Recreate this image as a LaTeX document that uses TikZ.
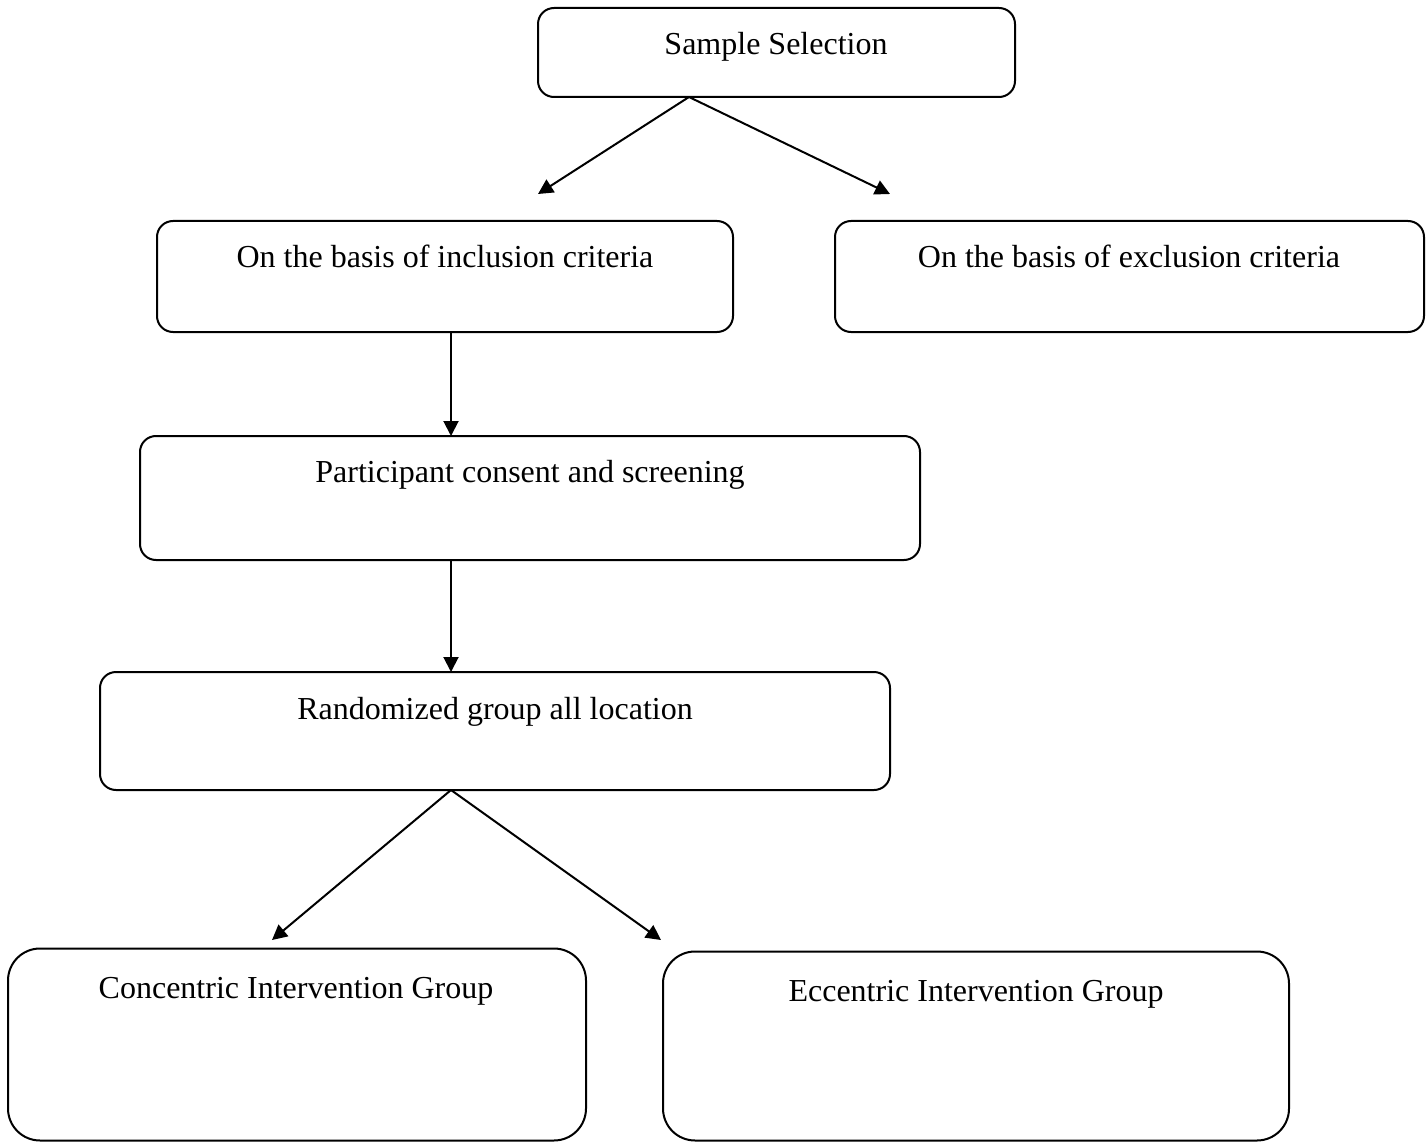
\documentclass[tikz,border=0pt]{standalone}
\usepackage{fontspec}
\setmainfont{Liberation Serif}
\usetikzlibrary{arrows.meta}
\begin{document}
\begin{tikzpicture}[x=1pt,y=-1pt,
  box/.style={draw=black, line width=2pt, rounded corners=#1, inner sep=0pt, outer sep=0pt},
  box/.default=16pt,
  lbl/.style={anchor=base, inner sep=0pt, font=\fontsize{32}{38}\selectfont},
  arr/.style={line width=2pt, -{Triangle[length=15pt,width=15pt]}}]
\useasboundingbox (0,0) rectangle (1427,1142);
% boxes
\node[box, minimum width=477pt, minimum height=89pt] (ss) at (776.5,52.5) {};
\node[box, minimum width=576pt, minimum height=111pt] (inc) at (445,276.5) {};
\node[box, minimum width=589pt, minimum height=111pt] (exc) at (1129.5,276.5) {};
\node[box, minimum width=780pt, minimum height=124pt] (part) at (530,498) {};
\node[box, minimum width=790pt, minimum height=118pt] (rand) at (495,731) {};
\node[box=32pt, minimum width=578pt, minimum height=192pt] (con) at (297,1044.5) {};
\node[box=32pt, minimum width=626pt, minimum height=189pt] (ecc) at (976,1046) {};
% labels
\node[lbl] (tss) at (776,55) {Sample Selection};
\node[lbl] (tinc) at (445,267) {On the basis of inclusion criteria};
\node[lbl] (texc) at (1129,267) {On the basis of exclusion criteria};
\node[lbl] (tpart) at (530,482) {Participant consent and screening};
\node[lbl] (trand) at (495,719) {Randomized group all location};
\node[lbl] (tcon) at (296,998) {Concentric Intervention Group};
\node[lbl] (tecc) at (976,1001) {Eccentric Intervention Group};
% connector end points
\coordinate (ssout) at (689,97);
\coordinate (tipl) at (538,194);
\coordinate (tipr) at (890,194);
\coordinate (vx) at (451,0);
\coordinate (randout) at (451,790);
\coordinate (tipcon) at (272,940);
\coordinate (tipecc) at (661,940);
% connectors
\draw[arr] (ssout) -- (tipl);
\draw[arr] (ssout) -- (tipr);
\draw[arr] (inc.south -| vx) -- (part.north -| vx);
\draw[arr] (part.south -| vx) -- (rand.north -| vx);
\draw[arr] (randout) -- (tipcon);
\draw[arr] (randout) -- (tipecc);
\end{tikzpicture}
\end{document}
